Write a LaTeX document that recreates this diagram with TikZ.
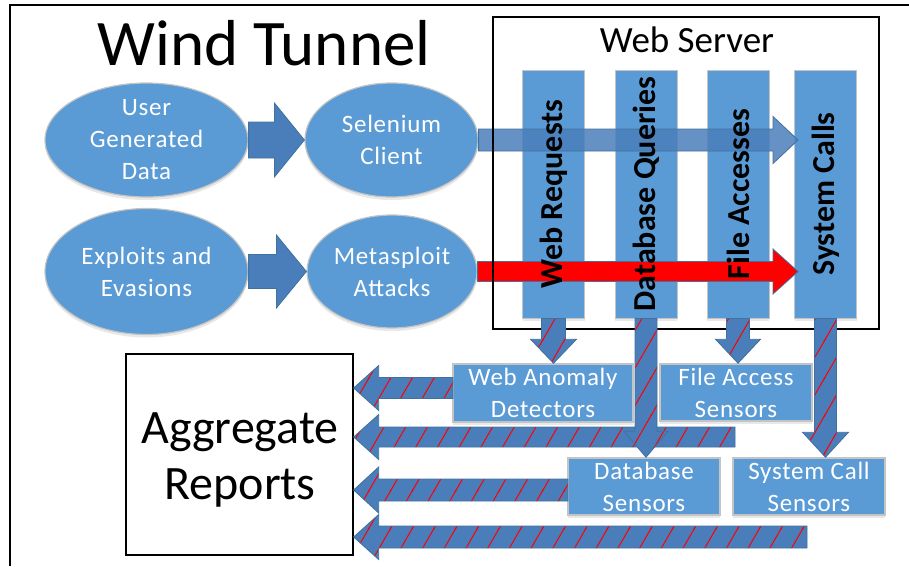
\documentclass[tikz,border=0pt]{standalone}
\usepackage{fontspec}
\setmainfont{Carlito}
\newfontfamily\spacedfont[LetterSpace=3.0]{Carlito}
\usetikzlibrary{shapes.geometric,patterns,shadows,calc}
\definecolor{mainblue}{RGB}{91,155,213}
\definecolor{arrblue}{RGB}{74,126,187}
\definecolor{arredge}{RGB}{65,113,156}
\definecolor{edgegray}{RGB}{196,196,196}
% slanted red hatch: horizontal spacing 21.7pt, about 60 degrees
\pgfdeclarepatternformonly{redhatch}{\pgfqpoint{-1pt}{-1pt}}{\pgfqpoint{22.7pt}{38.6pt}}{\pgfqpoint{21.7pt}{37.6pt}}{%
  \pgfsetlinewidth{1pt}%
  \pgfpathmoveto{\pgfqpoint{-1pt}{-1.733pt}}%
  \pgfpathlineto{\pgfqpoint{22.7pt}{39.33pt}}%
  \pgfusepath{stroke}}
% horizontal block arrow: options, from, to, shaft half, head half, head length
\newcommand\harr[6]{%
  \path[#1] let \p1=(#2), \p2=(#3) in
   (\x1,{\y1+#4}) -- ({\x2+sign(\x1-\x2)*#6},{\y1+#4}) -- ({\x2+sign(\x1-\x2)*#6},{\y1+#5})
   -- (\x2,\y1) -- ({\x2+sign(\x1-\x2)*#6},{\y1-#5}) -- ({\x2+sign(\x1-\x2)*#6},{\y1-#4})
   -- (\x1,{\y1-#4}) -- cycle;}
% vertical block arrow
\newcommand\varr[6]{%
  \path[#1] let \p1=(#2), \p2=(#3) in
   ({\x1+#4},\y1) -- ({\x1+#4},{\y2+sign(\y1-\y2)*#6}) -- ({\x1+#5},{\y2+sign(\y1-\y2)*#6})
   -- (\x1,\y2) -- ({\x1-#5},{\y2+sign(\y1-\y2)*#6}) -- ({\x1-#4},{\y2+sign(\y1-\y2)*#6})
   -- ({\x1-#4},\y1) -- cycle;}
\tikzset{
  softshadow/.style={drop shadow={shadow xshift=0pt,shadow yshift=-3pt,opacity=0.15,fill=black!60}},
  ell/.style={ellipse, fill=mainblue, draw=edgegray, line width=1.2pt, text=white, align=center,
    inner sep=0pt, font=\spacedfont\fontsize{25}{32}\selectfont, softshadow},
  col/.style={rectangle, fill=mainblue, draw=edgegray, line width=1pt, minimum width=62pt,
    minimum height=248pt, inner sep=0pt, softshadow},
  coltext/.style={rotate=90, font=\bfseries\fontsize{32}{38}\selectfont, text=black, inner sep=0pt},
  sensor/.style={rectangle, fill=mainblue, draw=edgegray, line width=1.5pt, text=white, align=center,
    font=\spacedfont\fontsize{25}{32}\selectfont, inner sep=0pt, minimum width=152pt, minimum height=57pt, softshadow},
  fatarrow/.style={fill=arrblue, draw=arredge, line width=0.8pt},
  redarrow/.style={fill=red, draw=arredge, line width=0.8pt},
  hatcharrow/.style={preaction={fill=arrblue},
    preaction={pattern=redhatch, pattern color=red},
    draw=arredge, line width=0.8pt},
  boxframe/.style={rectangle, draw=black, line width=1.3pt, inner sep=0pt},
}
\begin{document}
\begin{tikzpicture}[x=1pt,y=-1pt]
\useasboundingbox (0,0) rectangle (909,566);
% outer frame
\draw[line width=2pt] (10,566) -- (10,5) -- (909,5);
% title
\node[anchor=base, font=\fontsize{65}{70}\selectfont, inner sep=0pt] (title) at (264,65) {Wind Tunnel};
% ellipses
\node[ell, minimum width=203pt, minimum height=114pt] (ugd) at (146.5,140) {User\\Generated\\Data};
\node[ell, minimum width=173pt, minimum height=114pt] (sel) at (391.5,140) {Selenium\\Client};
\node[ell, minimum width=203pt, minimum height=126pt] (exp) at (146.5,271.5) {Exploits and\\Evasions};
\node[ell, minimum width=170pt, minimum height=113pt] (meta) at (392,271.5) {Metasploit\\Attacks};
\harr{fatarrow}{ugd.east}{sel.west}{18pt}{37pt}{30pt}
\harr{fatarrow}{exp.east}{meta.west}{17pt}{36.5pt}{30pt}
% web server columns
\node[col] (wr) at (553.5,194) {};
\node[col] (dq) at (646,194) {};
\node[col] (fa) at (738,194) {};
\node[col] (sc) at (825.5,194) {};
% long arrows
\coordinate (bluetip) at (798,140);
\coordinate (redtip) at (798,271);
\harr{fatarrow, fill opacity=0.85}{sel.east}{bluetip}{11pt}{23.5pt}{25pt}
\harr{redarrow}{meta.east}{redtip}{10pt}{22.5pt}{25pt}
% web server frame
\node[boxframe, minimum width=386pt, minimum height=312pt] (ws) at (686,173) {};
\node[anchor=base, font=\fontsize{37}{40}\selectfont, inner sep=0pt] (wstitle) at (687,52) {Web Server};
% column texts
\node[coltext] (wrt) at (wr.center) {Web Requests};
\node[coltext] (dqt) at (dq.center) {Database Queries};
\node[coltext] (fat) at (fa.center) {File Accesses};
\node[coltext] (sct) at (sc.center) {System Calls};
% sensor boxes
\node[sensor, minimum width=180pt, minimum height=58pt] (wad) at (543,393) {Web Anomaly\\Detectors};
\node[sensor] (fas) at (736,392.5) {File Access\\Sensors};
\node[sensor] (dbs) at (644,486.5) {Database\\Sensors};
\node[sensor] (scs) at (809,486.5) {System Call\\Sensors};
% aggregate reports
\node[boxframe, minimum width=227pt, minimum height=201pt] (agg) at (239.5,454.5) {};
\node[font=\fontsize{48}{56}\selectfont, align=center, inner sep=0pt] (aggtext) at (240,460) {Aggregate\\Reports};
% left arrows
\coordinate (a1) at (453,388);
\coordinate (b1) at (735,437);
\coordinate (c1) at (568,490);
\coordinate (d1) at (807,537);
\harr{hatcharrow}{b1}{agg.east}{10pt}{22.5pt}{25pt}
\harr{hatcharrow}{c1}{agg.east}{11pt}{23pt}{25pt}
\harr{hatcharrow}{d1}{agg.east}{11pt}{22.5pt}{25pt}
\harr{hatcharrow}{a1}{agg.east}{10.5pt}{22.5pt}{25pt}
% down arrows
\varr{hatcharrow}{wr.south}{wr.south |- wad.north}{12pt}{23pt}{24pt}
\varr{hatcharrow}{dq.south}{dq.south |- dbs.north}{11pt}{22pt}{26pt}
\varr{hatcharrow}{fa.south}{fa.south |- fas.north}{11.5pt}{22.5pt}{24pt}
\varr{hatcharrow}{sc.south}{sc.south |- scs.north}{11pt}{23pt}{25pt}
\end{tikzpicture}
\end{document}
